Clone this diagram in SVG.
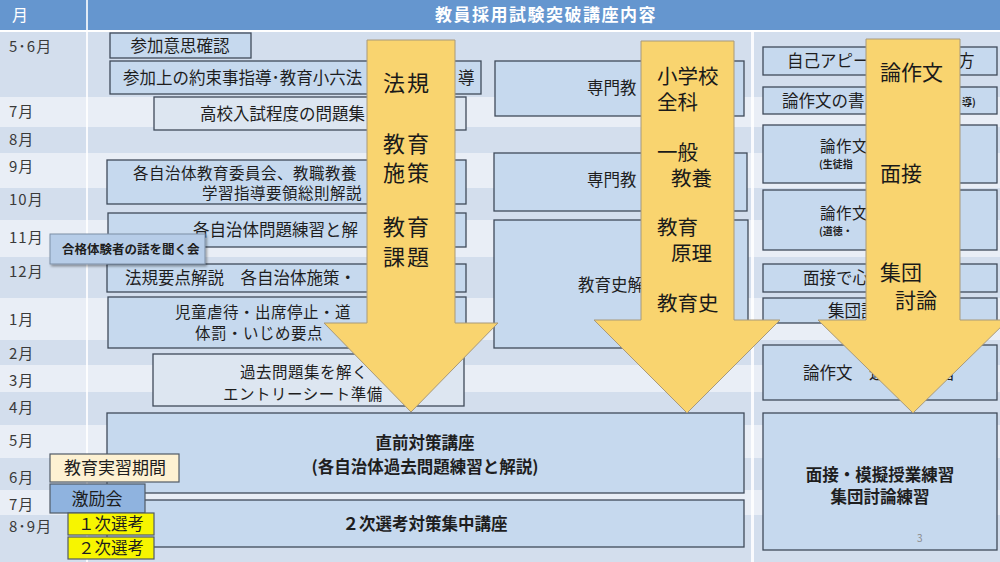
<svg xmlns="http://www.w3.org/2000/svg" width="1000" height="562" viewBox="0 0 1000 562">
<style>
text{font-family:"Noto Sans CJK JP","Noto Sans",sans-serif;fill:#1e1e1e}
.bd{fill:#d3deed}.bl{fill:#e9eef6}
.mo{font-size:15px;fill:#3a3a3a;letter-spacing:1px}
.box{fill:#c6d9ee;stroke:#3f4a5a;stroke-width:1.3}
.boxl{fill:#dde6f1;stroke:#3f4a5a;stroke-width:1.3}
.t{font-size:16.5px}
.t2{font-size:15.5px;letter-spacing:0.5px}
.tb{font-size:16.5px;font-weight:600}
.s{font-size:10px;font-weight:700}
.arr{fill:#f9d46f;stroke:#a8997a;stroke-width:1}
.at{font-size:22px;fill:#1a1a1a}
.c{text-anchor:middle}
</style>
<defs>
<filter id="sh" x="-10%" y="-10%" width="130%" height="140%"><feDropShadow dx="1.5" dy="2" stdDeviation="1.2" flood-color="#000" flood-opacity="0.35"/></filter>
</defs>
<g id="table">
<rect x="0" y="0" width="1000" height="562" fill="#ffffff"/>
<rect x="0" y="0" width="1000" height="30" fill="#6596cf"/>
<rect x="86" y="0" width="2" height="30" fill="#ffffff" opacity="0.8"/>
<text x="12" y="21" style="font-size:16px;fill:#ffffff">月</text>
<text x="546" y="21" class="c" style="font-size:17px;font-weight:700;fill:#ffffff;letter-spacing:1.5px">教員採用試験突破講座内容</text>
<rect class="bd" x="0" y="32" width="1000" height="65"/>
<rect class="bl" x="0" y="97" width="1000" height="30"/>
<rect class="bd" x="0" y="127" width="1000" height="26"/>
<rect class="bl" x="0" y="153" width="1000" height="35"/>
<rect class="bd" x="0" y="188" width="1000" height="32"/>
<rect class="bl" x="0" y="220" width="1000" height="37"/>
<rect class="bd" x="0" y="257" width="1000" height="41"/>
<rect class="bl" x="0" y="298" width="1000" height="42"/>
<rect class="bd" x="0" y="340" width="1000" height="25"/>
<rect class="bl" x="0" y="365" width="1000" height="27"/>
<rect class="bd" x="0" y="392" width="1000" height="33"/>
<rect class="bl" x="0" y="425" width="1000" height="33"/>
<rect class="bd" x="0" y="458" width="1000" height="32"/>
<rect class="bl" x="0" y="490" width="1000" height="25"/>
<rect class="bd" x="0" y="515" width="1000" height="47"/>
<rect x="86" y="32" width="2" height="530" fill="#ffffff" opacity="0.85"/>
<rect x="751" y="32" width="3" height="530" fill="#ffffff" opacity="0.85"/>
<text class="mo" x="9" y="52">5･6月</text>
<text class="mo" x="9" y="117">7月</text>
<text class="mo" x="9" y="145">8月</text>
<text class="mo" x="9" y="172">9月</text>
<text class="mo" x="9" y="205">10月</text>
<text class="mo" x="9" y="243">11月</text>
<text class="mo" x="9" y="277">12月</text>
<text class="mo" x="9" y="325">1月</text>
<text class="mo" x="9" y="359">2月</text>
<text class="mo" x="9" y="386">3月</text>
<text class="mo" x="9" y="413">4月</text>
<text class="mo" x="9" y="446">5月</text>
<text class="mo" x="9" y="483">6月</text>
<text class="mo" x="9" y="510">7月</text>
<text class="mo" x="9" y="532">8･9月</text>
</g>
<g id="n-sanka"><rect class="box" x="110" y="33" width="141" height="25"/><text class="t c" x="180" y="52">参加意思確認</text></g>
<g id="n-yakusoku"><rect class="box" x="110" y="61" width="371" height="33"/><text class="t" x="123" y="84">参加上の約束事指導･教育小六法</text><text class="t" x="458" y="84">導</text></g>
<g id="n-koko"><rect class="boxl" x="154" y="97" width="312" height="33"/><text class="t" x="200" y="120">高校入試程度の問題集</text></g>
<g id="n-kyoiku-iinkai"><rect class="box" x="107" y="160" width="359" height="44"/><text class="t2" x="133" y="179">各自治体教育委員会、教職教養</text><text class="t2" x="202" y="199">学習指導要領総則解説</text></g>
<g id="n-mondai"><rect class="box" x="108" y="213" width="358" height="34"/><text class="t" x="193" y="236">各自治体問題練習と解</text></g>
<g id="n-hoki"><rect class="box" x="107" y="264" width="359" height="28"/><text class="t" x="125" y="284">法規要点解説　各自治体施策・</text></g>
<g id="n-jido"><rect class="box" x="108" y="297" width="358" height="51"/><text class="t2" x="175" y="318">児童虐待・出席停止・道</text><text class="t2" x="195" y="339">体罰・いじめ要点</text></g>
<g id="n-kako"><rect class="boxl" x="153" y="354" width="311" height="52"/><text class="t2" x="240" y="378">過去問題集を解く</text><text class="t2" x="223" y="400">エントリーシート準備</text></g>
<g id="n-chokuzen"><rect class="box" x="107" y="413" width="637" height="80"/><text class="tb c" x="425" y="449">直前対策講座</text><text class="tb c" x="425" y="473">(各自治体過去問題練習と解説)</text></g>
<g id="n-niji-taisaku"><rect class="box" x="107" y="500" width="637" height="47"/><text class="tb c" x="425" y="530">２次選考対策集中講座</text></g>
<g id="n-senmon1"><rect class="box" x="495" y="61" width="249" height="55"/><text class="t" x="587" y="94">専門教</text></g>
<g id="n-senmon2"><rect class="box" x="494" y="153" width="253" height="58"/><text class="t" x="587" y="186">専門教</text></g>
<g id="n-kyoikushi"><rect class="box" x="494" y="220" width="254" height="128"/><text class="t" x="578" y="291">教育史解</text></g>
<g id="n-jiko"><rect class="box" x="763" y="47" width="234" height="28"/><text class="t" x="787" y="67">自己アピー</text><text class="t" x="958" y="67">方</text></g>
<g id="n-kakikata"><rect class="box" x="763" y="87" width="234" height="27"/><text class="t" x="782" y="107">論作文の書</text><text class="s" x="962" y="106">導)</text></g>
<g id="n-ron1"><rect class="box" x="763" y="125" width="234" height="58"/><text class="t2" x="820" y="152">論作文</text><text class="s" x="819" y="168">(生徒指</text></g>
<g id="n-ron2"><rect class="box" x="763" y="190" width="234" height="60"/><text class="t2" x="820" y="219">論作文</text><text class="s" x="819" y="235">(道徳・</text></g>
<g id="n-mensetsu-kokoro"><rect class="box" x="763" y="264" width="234" height="28"/><text class="t" x="803" y="284">面接で心</text></g>
<g id="n-shudan"><rect class="box" x="763" y="298" width="234" height="25"/><text class="t" x="828" y="317">集団討</text></g>
<g id="n-ron3"><rect class="box" x="763" y="345" width="234" height="55"/><text class="t" x="803" y="379">論作文　速</text><text class="t" x="939" y="379">習</text></g>
<g id="n-mogi"><rect class="box" x="763" y="413" width="234" height="137"/><text class="tb c" x="880" y="481">面接・模擬授業練習</text><text class="tb c" x="880" y="503">集団討論練習</text><text x="917" y="542" style="font-size:10px;fill:#8a8a8a">3</text></g>
<g id="connectors">
<g id="arrow-hoki"><path class="arr" d="M367,40 L455,40 L455,323 L498,323 L411,412 L324,323 L367,323 Z"/>
<text class="at" x="383" y="91" style="letter-spacing:2px">法規</text>
<text class="at" x="383" y="152" style="letter-spacing:2px">教育</text>
<text class="at" x="383" y="181" style="letter-spacing:2px">施策</text>
<text class="at" x="383" y="235" style="letter-spacing:2px">教育</text>
<text class="at" x="383" y="265" style="letter-spacing:2px">課題</text></g>
<g id="arrow-shogakko"><path class="arr" d="M641,41 L734,41 L734,320 L780,320 L687,413 L594,320 L641,320 Z"/>
<text class="at" x="657" y="84" style="font-size:20.5px">小学校</text>
<text class="at" x="657" y="110" style="font-size:20.5px">全科</text>
<text class="at" x="657" y="160" style="font-size:20.5px">一般</text>
<text class="at" x="671" y="186" style="font-size:20.5px">教養</text>
<text class="at" x="657" y="235" style="font-size:20.5px">教育</text>
<text class="at" x="671" y="261" style="font-size:20.5px">原理</text>
<text class="at" x="657" y="311" style="font-size:20.5px">教育史</text></g>
<g id="arrow-ronsakubun"><path class="arr" d="M866,39 L960,39 L960,320 L1008,320 L913,413 L818,320 L866,320 Z"/>
<text class="at" x="880" y="80" style="font-size:21px">論作文</text>
<text class="at" x="880" y="181" style="font-size:21px">面接</text>
<text class="at" x="880" y="280" style="font-size:21px">集団</text>
<text class="at" x="895" y="308" style="font-size:21px">討論</text></g>
</g>
<g id="n-taikensha"><rect x="50" y="234" width="155" height="30" fill="#b7cde8" stroke="#7d8fa6" stroke-width="1" filter="url(#sh)"/><text x="62" y="254" style="font-size:12.5px;font-weight:600">合格体験者の話を聞く会</text></g>
<g id="n-jisshu"><rect x="50" y="454" width="129" height="28" fill="#fdf1d2" stroke="#505a66" stroke-width="1.2"/><text class="c" x="115" y="474" style="font-size:17px">教育実習期間</text></g>
<g id="n-gekirei"><rect x="50" y="484" width="95" height="29" fill="#8fb3df" stroke="#505a66" stroke-width="1.2"/><text class="c" x="97" y="505" style="font-size:17px">激励会</text></g>
<g id="n-ichiji"><rect x="68" y="513" width="86" height="22" fill="#f7f500" stroke="#505a66" stroke-width="1.2"/><text class="t c" x="111" y="530">１次選考</text></g>
<g id="n-niji"><rect x="68" y="537" width="86" height="22" fill="#f7f500" stroke="#505a66" stroke-width="1.2"/><text class="t c" x="111" y="554">２次選考</text></g>
</svg>
